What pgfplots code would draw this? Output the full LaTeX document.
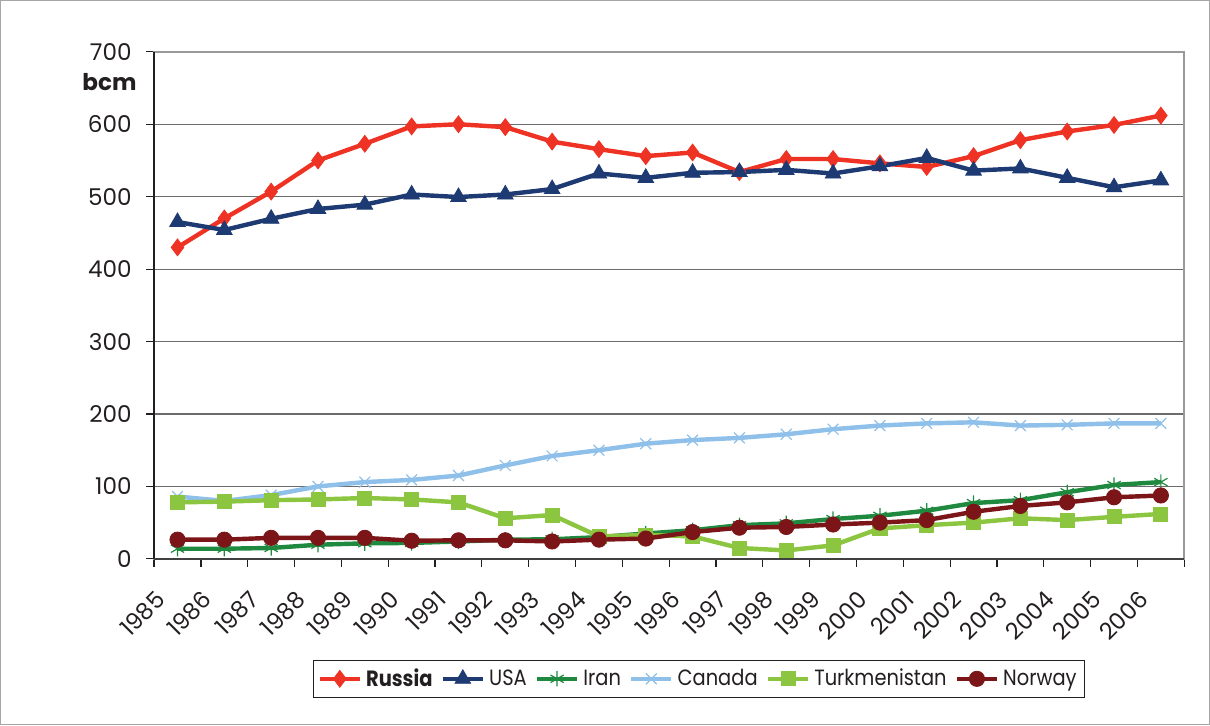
\documentclass[border=0pt]{standalone}
\usepackage{pgfplots}
\pgfplotsset{compat=1.18}
\usepackage{pgfplotstable}
\usepackage{fontspec}
\setmainfont{Poppins}
\newfontfamily\legfont[FakeStretch=0.88]{Poppins}
\definecolor{cRus}{HTML}{EE3325}
\definecolor{cUSA}{HTML}{1E3A72}
\definecolor{cIran}{HTML}{1F8A3F}
\definecolor{cCan}{HTML}{8EC0E9}
\definecolor{cTur}{HTML}{8CC540}
\definecolor{cNor}{HTML}{7B1517}
\definecolor{txt}{HTML}{231F20}
\pgfplotstableread{
x Russia USA Iran Canada Turk Norway
0 430 465 14 86 78 26.5
1 470 454 14 80 79 26.5
2 507 469.5 15 88 81 29
3 550 483 19.5 100 82 29
4 573 489 21.4 106 84 29
5 597 503 22 109 82 25
6 600 499.5 24 115 78 25.6
7 596 503 26.5 129 56 25.6
8 576 510.5 27 142 60.5 24
9 565.6 532 30 150 31 26.5
10 556 526 35 159 33 28
11 561 533 39.5 164 31 37
12 534 534 46.5 167 15 43
13 552 537 49 172 11.6 44
14 552 532 55 179 18.6 47.4
15 546 542 59.5 184 42 50
16 541 553.5 66.5 187 46.5 53.5
17 556 536 77 188.5 50 65
18 578 539 81 184 56 73
19 590 526 92 185 53.5 78
20 599 513 102 187 58 85
21 612 522.5 106 187 62 87.5
}\data
\begin{document}
\begin{tikzpicture}[x=1pt,y=1pt]
\begin{axis}[
  scale only axis,
  width=513pt, height=252.5pt,
  xmin=-0.5, xmax=21.5, ymin=0, ymax=700,
  clip=false,
  font=\fontsize{11.5}{13}\selectfont,
  /pgf/number format/assume math mode=true,
  ytick={0,100,...,700},
  xtick={0,...,21},
  xticklabels={1985,1986,1987,1988,1989,1990,1991,1992,1993,1994,1995,1996,1997,1998,1999,2000,2001,2002,2003,2004,2005,2006},
  minor xtick={-0.5,0.5,...,21.5},
  major x tick style={draw=none},
  minor x tick style={draw=txt, line width=0.6pt},
  y tick style={draw=txt, line width=0.6pt},
  tick align=outside,
  major tick length=4pt, minor tick length=4pt,
  xtick pos=bottom, ytick pos=left,
  xticklabel style={xshift=-11.5pt, yshift=-11pt, rotate=45, anchor=north east, text=txt, inner sep=0pt},
  yticklabel style={text=txt, inner sep=0pt, xshift=-7pt},
  ymajorgrids,
  grid style={draw=gray!85!black, line width=0.6pt},
  axis line style={draw=gray!80, line width=0.8pt},
  every axis plot/.append style={line width=2.2pt},
  legend style={at={(0.529,-0.2366)}, anchor=center, legend columns=6, draw=txt, line width=0.6pt,
    font=\fontsize{11}{13}\legfont, text=txt, inner xsep=2pt, inner ysep=2pt,
    /tikz/every even column/.append style={column sep=2pt}},
  legend image code/.code={\draw[mark repeat=2,mark phase=2] plot coordinates {(0pt,0pt)(10pt,0pt)(20pt,0pt)};},
]
\addplot[cRus, mark=diamond*, mark size=4.2pt, mark options={solid, line width=0.4pt}] table[x=x,y=Russia]{\data};
\addlegendentry{\textbf{Russia}}
\addplot[cUSA, mark=triangle*, mark size=4.5pt, mark options={solid, line width=0.4pt}] table[x=x,y=USA]{\data};
\addlegendentry{USA}
\addplot[cIran, mark=asterisk, mark size=3.8pt, mark options={solid, line width=0.6pt}] table[x=x,y=Iran]{\data};
\addlegendentry{Iran}
\addplot[cCan, mark=x, mark size=3.8pt, mark options={solid, line width=0.6pt}] table[x=x,y=Canada]{\data};
\addlegendentry{Canada}
\addplot[cTur, mark=square*, mark size=3.5pt, mark options={solid, line width=0.4pt}] table[x=x,y=Turk]{\data};
\addlegendentry{Turkmenistan}
\addplot[cNor, mark=*, mark size=3.8pt, mark options={solid, line width=0.4pt}] table[x=x,y=Norway]{\data};
\addlegendentry{Norway}
\draw[txt, line width=0.8pt] (rel axis cs:0,0) -- (rel axis cs:0,1);
\draw[gray!50!black, line width=0.9pt] (rel axis cs:0,0) -- (rel axis cs:1,0);
\node[anchor=east, inner sep=0pt, font=\fontsize{11.5}{13}\selectfont\bfseries, text=txt] at (rel axis cs:-0.0166,0.9406) {bcm};
\draw[gray!70, line width=0.6pt] (rel axis cs:-0.149,-0.327) rectangle (rel axis cs:1.0244,1.101);
\end{axis}
\end{tikzpicture}
\end{document}
